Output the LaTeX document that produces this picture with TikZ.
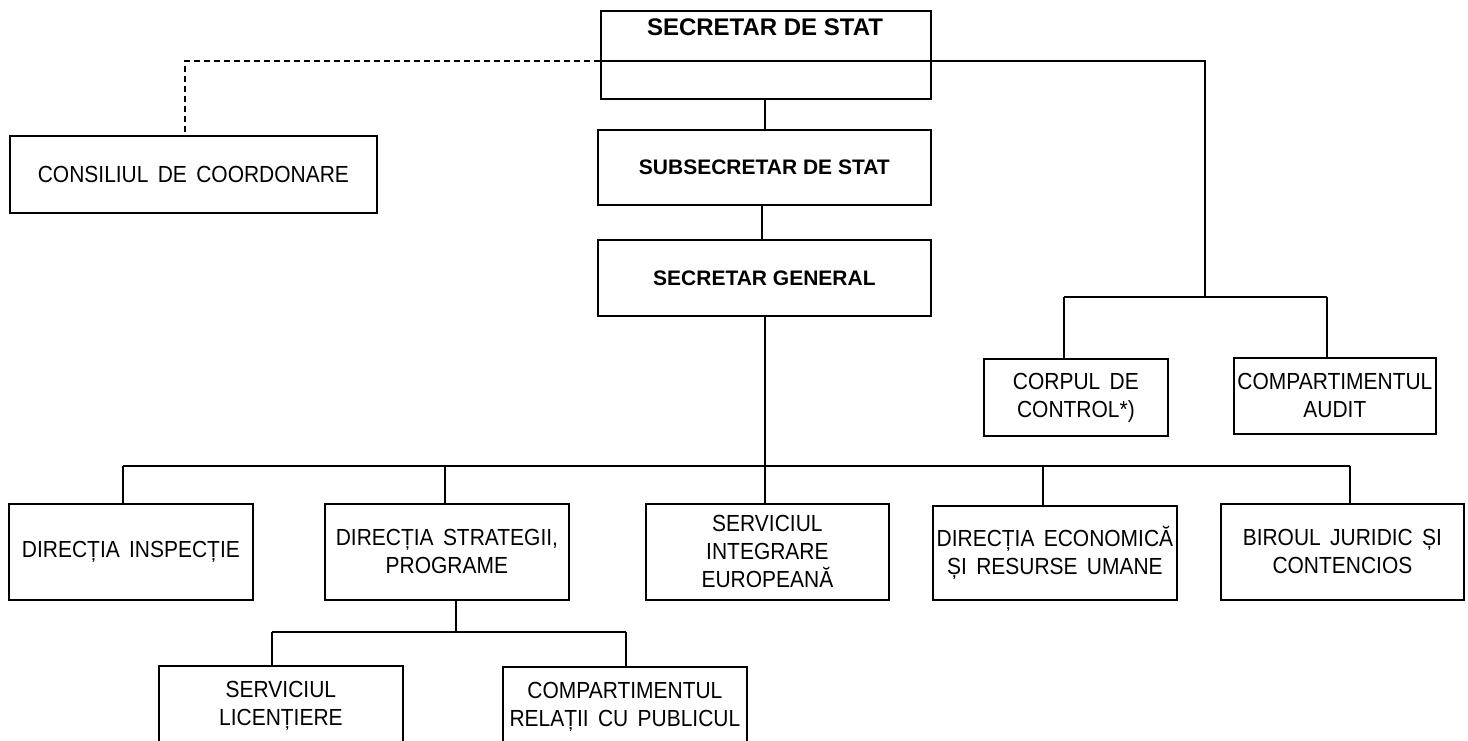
\documentclass[tikz,border=0pt]{standalone}
\usepackage{fontspec}
\setmainfont{Liberation Sans}
\newfontfamily\regf{Liberation Sans}[WordSpace=1.6, FakeStretch=0.9]
\begin{document}
\begin{tikzpicture}[x=1pt,y=-1pt,
  box/.style={draw, line width=1.8pt, anchor=north west, inner sep=0pt, align=center},
  conn/.style={line width=1.4pt},
  dconn/.style={line width=1.4pt, dash pattern=on 6pt off 4pt},
  reg/.style={font=\regf\fontsize{23.3}{28}\selectfont},
  bld/.style={font=\bfseries\fontsize{21}{28}\selectfont},
  big/.style={font=\bfseries\fontsize{24}{28}\selectfont}]
\useasboundingbox (0,0) rectangle (1468,740);
% top level
\node[box, minimum width=330pt, minimum height=88pt] (ss) at (600,10) {};
\node[big, anchor=center] (sstxt) at (765,27) {SECRETAR DE STAT};
\node[box, bld, minimum width=333pt, minimum height=75pt] (sub) at (597,129) {SUBSECRETAR DE STAT};
\node[box, bld, minimum width=333pt, minimum height=76pt] (sg) at (597,239) {SECRETAR GENERAL};
\node[box, reg, minimum width=367pt, minimum height=77pt] (cons) at (9,135) {CONSILIUL DE COORDONARE};
\node[box, reg, minimum width=184pt, minimum height=77pt] (corp) at (983,358) {CORPUL DE\\CONTROL*)};
\node[box, reg, minimum width=202pt, minimum height=76pt] (audit) at (1233,357) {COMPARTIMENTUL\\AUDIT};
% second row
\node[box, reg, minimum width=244pt, minimum height=96pt] (dinsp) at (8,503) {DIRECȚIA INSPECȚIE};
\node[box, reg, minimum width=244pt, minimum height=96pt] (dstrat) at (324,503) {DIRECȚIA STRATEGII,\\PROGRAME};
\node[box, reg, minimum width=243pt, minimum height=96pt] (sint) at (645,503) {SERVICIUL\\INTEGRARE\\EUROPEANĂ};
\node[box, reg, minimum width=244pt, minimum height=94pt] (decon) at (932,505) {DIRECȚIA ECONOMICĂ\\ȘI RESURSE UMANE};
\node[box, reg, minimum width=243pt, minimum height=96pt] (bir) at (1220,503) {BIROUL JURIDIC ȘI\\CONTENCIOS};
% third row
\node[box, reg, minimum width=244pt, minimum height=80pt] (slic) at (158,665) {SERVICIUL\\LICENȚIERE};
\node[box, reg, minimum width=244pt, minimum height=80pt] (crel) at (502,666) {COMPARTIMENTUL\\RELAȚII CU PUBLICUL};
% coordinates
\coordinate (hL) at (600,61);
\coordinate (hR) at (1205,61);
\coordinate (hD) at (185,61);
\coordinate (cb) at (1205,297);
\coordinate (cbL) at (1064,297);
\coordinate (cbR) at (1327,297);
\coordinate (b1) at (123,466);
\coordinate (b2) at (445,466);
\coordinate (b3) at (765,466);
\coordinate (b4) at (1043,466);
\coordinate (b5) at (1350,466);
\coordinate (s0) at (456,632);
\coordinate (s1) at (272,632);
\coordinate (s2) at (626,632);
% connectors
\draw[conn] (hL) -- (hR) -- (cb);
\draw[conn] (cbL) -- (cbR);
\draw[conn] (cbL) -- (cbL |- corp.north);
\draw[conn] (cbR) -- (cbR |- audit.north);
\draw[dconn] (hL) -- (hD) -- (hD |- cons.north);
\draw[conn] (ss.south -| 765,0) -- (sub.north -| 765,0);
\draw[conn] (sub.south -| 762,0) -- (sg.north -| 762,0);
\draw[conn] (sg.south -| b3) -- (sint.north -| b3);
\draw[conn] (b1) -- (b5);
\draw[conn] (b1) -- (b1 |- dinsp.north);
\draw[conn] (b2) -- (b2 |- dstrat.north);
\draw[conn] (b4) -- (b4 |- decon.north);
\draw[conn] (b5) -- (b5 |- bir.north);
\draw[conn] (dstrat.south -| s0) -- (s0);
\draw[conn] (s1) -- (s2);
\draw[conn] (s1) -- (s1 |- slic.north);
\draw[conn] (s2) -- (s2 |- crel.north);
\end{tikzpicture}
\end{document}
